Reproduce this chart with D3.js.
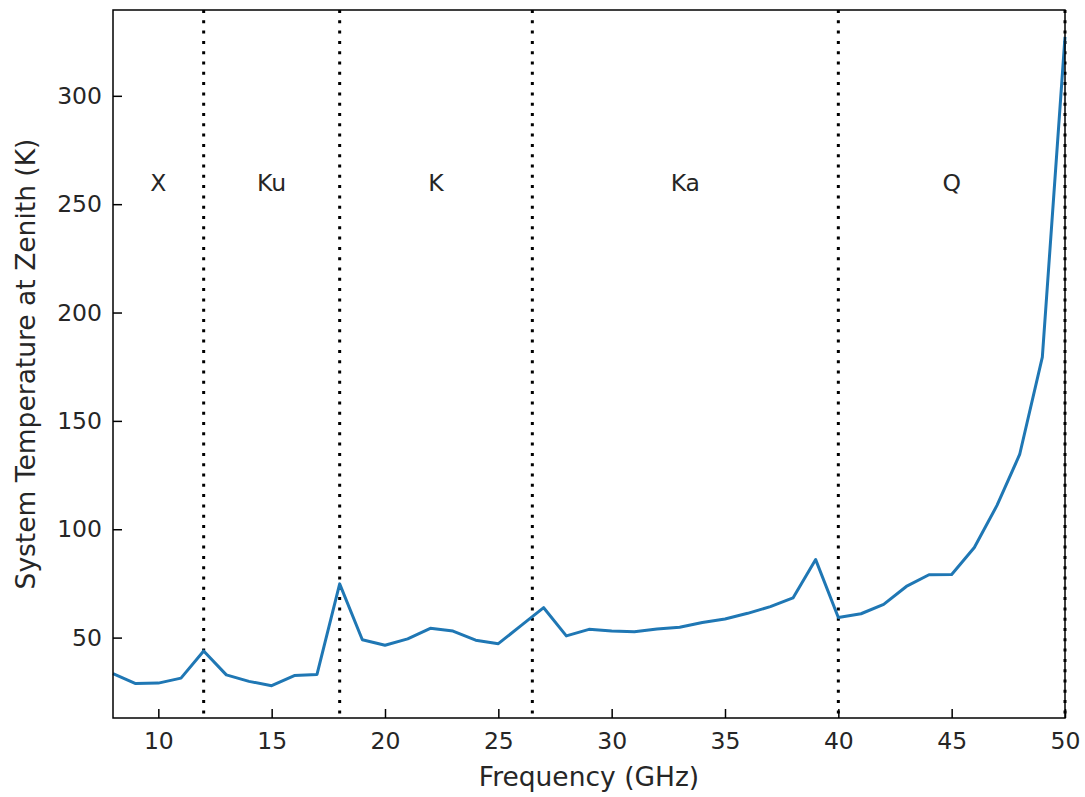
<!DOCTYPE html>
<html>
<head>
<meta charset="utf-8">
<script src="https://cdn.jsdelivr.net/npm/d3@7"></script>
<style>
  body { margin: 0; background: #fff; }
  text { font-family: "DejaVu Sans", sans-serif; fill: #262626; }
</style>
</head>
<body>
<div id="chart"></div>
<script>
// frequencies in GHz, system temperature at zenith in K
var freqs = [8, 9, 10, 11, 12, 13, 14, 15, 16, 17, 18, 19, 20, 21, 22, 23, 24, 25, 26, 27, 28, 29,
             30, 31, 32, 33, 34, 35, 36, 37, 38, 39, 40, 41, 42, 43, 44, 45, 46, 47, 48, 49, 50];
var temps = [33.4, 28.8, 29.0, 31.3, 43.8, 32.8, 29.8, 27.8, 32.5, 33.0, 74.8, 49.0, 46.5, 49.4, 54.3, 53.0, 48.8, 47.2, 55.5, 63.8, 50.8, 53.8,
             53.0, 52.7, 54.0, 54.8, 57.0, 58.6, 61.2, 64.3, 68.3, 86.0, 59.3, 61.0, 65.3, 73.6, 79.0, 79.1, 91.6, 111.0, 134.5, 179.4, 327.2];

// band edges (dotted lines) and band names
var bandEdges = [12, 18, 26.5, 40, 50];
var bandNames = ["X", "Ku", "K", "Ka", "Q"];
var bandStarts = [8, 12, 18, 26.5, 40];

var xTicks = [10, 15, 20, 25, 30, 35, 40, 45, 50];
var yTicks = [50, 100, 150, 200, 250, 300];

var margin = { top: 10, right: 20, bottom: 79, left: 113 },
    width = 1085 - margin.left - margin.right,
    height = 797 - margin.top - margin.bottom;

var svg = d3.select("#chart")
  .append("svg")
  .attr("width", 1085)
  .attr("height", 797)
  .append("g")
  .attr("transform", "translate(" + margin.left + "," + margin.top + ")");

var x = d3.scaleLinear().domain([8, 50]).range([0, width]);
var y = d3.scaleLinear().domain([12.9, 339.6]).range([height, 0]);

// dotted band separators
svg.selectAll(".band")
  .data(bandEdges)
  .enter()
  .append("line")
  .attr("x1", function (d) { return x(d); })
  .attr("x2", function (d) { return x(d); })
  .attr("y1", 0)
  .attr("y2", height)
  .attr("stroke", "#000")
  .attr("stroke-width", 3)
  .attr("stroke-dasharray", "3,7.3");

// band labels, centred in each band
svg.selectAll(".bandLabel")
  .data(bandNames)
  .enter()
  .append("text")
  .attr("x", function (d, i) { return x((bandStarts[i] + bandEdges[i]) / 2); })
  .attr("y", y(260))
  .attr("dy", "0.36em")
  .attr("text-anchor", "middle")
  .style("font-size", "23.5px")
  .text(function (d) { return d; });

// the temperature curve
var line = d3.line()
  .x(function (d, i) { return x(freqs[i]); })
  .y(function (d) { return y(d); });

svg.append("path")
  .datum(temps)
  .attr("d", line)
  .attr("fill", "none")
  .attr("stroke", "#1f77b4")
  .attr("stroke-width", 3)
  .attr("stroke-linejoin", "round");

// axes, ticks pointing inward
var xAxis = svg.append("g")
  .attr("transform", "translate(0," + height + ")")
  .call(d3.axisBottom(x).tickValues(xTicks).tickSize(-9).tickPadding(14));
var yAxis = svg.append("g")
  .call(d3.axisLeft(y).tickValues(yTicks).tickSize(-9).tickPadding(11));

[xAxis, yAxis].forEach(function (ax) {
  ax.select(".domain").remove();
  ax.selectAll("line").attr("stroke", "#000").attr("stroke-width", 1.5);
  ax.selectAll("text").style("font-size", "23.5px").style("font-family", "DejaVu Sans").attr("fill", "#262626");
});

// frame
svg.append("rect")
  .attr("width", width)
  .attr("height", height)
  .attr("fill", "none")
  .attr("stroke", "#000")
  .attr("stroke-width", 1.5);

svg.append("text")
  .attr("x", width / 2)
  .attr("y", height + 68)
  .attr("text-anchor", "middle")
  .style("font-size", "26.5px")
  .text("Frequency (GHz)");

svg.append("text")
  .attr("transform", "rotate(-90)")
  .attr("x", -height / 2)
  .attr("y", -78.5)
  .attr("text-anchor", "middle")
  .style("font-size", "26.5px")
  .text("System Temperature at Zenith (K)");
</script>
</body>
</html>
